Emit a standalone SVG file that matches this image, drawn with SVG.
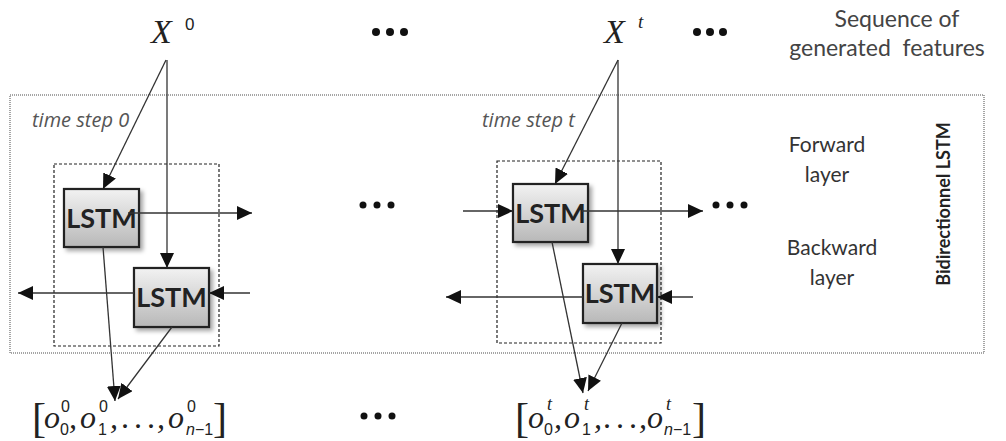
<svg xmlns="http://www.w3.org/2000/svg" width="1006" height="441" viewBox="0 0 1006 441">
<defs>
<linearGradient id="g" x1="0" y1="0" x2="0" y2="1">
<stop offset="0" stop-color="#f2f2f2"/>
<stop offset="1" stop-color="#b8b8b8"/>
</linearGradient>
<filter id="sh" x="-20%" y="-20%" width="150%" height="150%">
<feDropShadow dx="3" dy="3" stdDeviation="2" flood-color="#000" flood-opacity="0.35"/>
</filter>
<marker id="ah" markerUnits="userSpaceOnUse" markerWidth="16" markerHeight="14" refX="15" refY="7" orient="auto">
<path d="M0,0 L15,7 L0,14 z" fill="#111"/>
</marker>
</defs>
<style>
.outer{fill:none;stroke:#888;stroke-width:1.5;stroke-dasharray:1 1}
.inner{fill:none;stroke:#222;stroke-width:1.2;stroke-dasharray:3 2}
.box{fill:url(#g);stroke:#222;stroke-width:2.2;filter:url(#sh)}
.lt{font-family:Lato,"Open Sans",sans-serif;font-weight:bold;font-size:27px;fill:#222}
.c line{stroke:#333;stroke-width:1.3;marker-end:url(#ah)}
.ts{font-family:"Open Sans",Lato,sans-serif;font-style:italic;font-size:20px;fill:#555}
.lab{font-family:Lato,"Open Sans",sans-serif;font-size:21px;fill:#333;text-anchor:middle}
.seq{font-family:Lato,"Open Sans",sans-serif;font-size:23px;fill:#444;text-anchor:middle}
.m{font-family:"Liberation Serif","DejaVu Serif",serif;font-style:italic;font-size:32px;fill:#222}
.s{font-family:"Liberation Sans","DejaVu Sans",sans-serif;font-size:16px;fill:#222}
.br{font-family:"Liberation Serif","DejaVu Serif",serif;font-size:42px;fill:#222}
.dot{fill:#111}
</style>
<rect class="outer" x="10" y="95" width="974" height="258"/>
<text class="ts" x="32" y="127">time step 0</text>
<text class="ts" x="482" y="127">time step t</text>
<rect class="inner" x="54" y="164" width="165" height="182"/>
<rect class="inner" x="497" y="161" width="164" height="182"/>
<g id="lstm-f0"><rect class="box" x="64" y="189" width="75" height="58"/><text class="lt" x="101.5" y="228" text-anchor="middle">LSTM</text></g>
<g id="lstm-b0"><rect class="box" x="134" y="268" width="75" height="59"/><text class="lt" x="171.5" y="307" text-anchor="middle">LSTM</text></g>
<g id="lstm-ft"><rect class="box" x="513" y="184" width="75" height="58"/><text class="lt" x="550.5" y="223" text-anchor="middle">LSTM</text></g>
<g id="lstm-bt"><rect class="box" x="583" y="264" width="74" height="59"/><text class="lt" x="620" y="303" text-anchor="middle">LSTM</text></g>
<g id="x0"><text class="m" style="font-size:34px" x="151" y="43">X</text><text class="s" style="font-size:17px" x="185" y="30">0</text></g>
<g id="xt"><text class="m" style="font-size:34px" x="604" y="43">X</text><text class="m" style="font-size:19px" x="638" y="28">t</text></g>
<g id="dots">
<circle class="dot" cx="376" cy="32" r="4"/><circle class="dot" cx="390" cy="32" r="4"/><circle class="dot" cx="404" cy="32" r="4"/>
<circle class="dot" cx="697" cy="32" r="4"/><circle class="dot" cx="710" cy="32" r="4"/><circle class="dot" cx="723" cy="32" r="4"/>
<circle class="dot" cx="363" cy="205" r="3.5"/><circle class="dot" cx="377" cy="205" r="3.5"/><circle class="dot" cx="391" cy="205" r="3.5"/>
<circle class="dot" cx="716" cy="205" r="3.5"/><circle class="dot" cx="730" cy="205" r="3.5"/><circle class="dot" cx="744" cy="205" r="3.5"/>
<circle class="dot" cx="364" cy="416" r="3.5"/><circle class="dot" cx="378" cy="416" r="3.5"/><circle class="dot" cx="392" cy="416" r="3.5"/>
</g>
<g id="labels">
<text class="seq" x="897" y="27">Sequence of</text>
<text class="seq" x="887" y="56" xml:space="preserve">generated  features</text>
<text class="lab" x="827" y="152">Forward</text>
<text class="lab" x="827" y="182">layer</text>
<text class="lab" x="832" y="255">Backward</text>
<text class="lab" x="832" y="285">layer</text>
<text class="lt" style="font-size:18px" transform="translate(950,204) rotate(-90)" text-anchor="middle">Bidirectionnel LSTM</text>
</g>
<g id="out0">
<text class="br" x="32" y="432">[</text>
<text class="m" x="44" y="428">o</text><text class="s" x="60" y="435">0</text><text class="s" x="61" y="412">0</text>
<text class="m" x="69" y="428">,</text>
<text class="m" x="80" y="428">o</text><text class="s" x="98" y="435">1</text><text class="s" x="99" y="412">0</text>
<text class="m" x="110" y="428">,</text>
<text class="m" x="121" y="428" style="font-style:normal">.</text>
<text class="m" x="134" y="428" style="font-style:normal">.</text>
<text class="m" x="147" y="428" style="font-style:normal">.</text>
<text class="m" x="157" y="428">,</text>
<text class="m" x="168" y="428">o</text><text class="s" x="186" y="435" style="font-style:italic">n</text><text class="s" x="195" y="435">−1</text><text class="s" x="187" y="412">0</text>
<text class="br" x="213" y="432">]</text>
</g>
<g id="outt">
<text class="br" x="515" y="432">[</text>
<text class="m" x="528" y="428">o</text><text class="s" x="544" y="435">0</text><text class="m" style="font-size:18px" x="547" y="410">t</text>
<text class="m" x="554" y="428">,</text>
<text class="m" x="564" y="428">o</text><text class="s" x="582" y="435">1</text><text class="m" style="font-size:18px" x="584" y="410">t</text>
<text class="m" x="594" y="428">,</text>
<text class="m" x="603" y="428" style="font-style:normal">.</text>
<text class="m" x="616" y="428" style="font-style:normal">.</text>
<text class="m" x="629" y="428" style="font-style:normal">.</text>
<text class="m" x="639" y="428">,</text>
<text class="m" x="647" y="428">o</text><text class="s" x="664" y="435" style="font-style:italic">n</text><text class="s" x="673" y="435">−1</text><text class="m" style="font-size:18px" x="666" y="410">t</text>
<text class="br" x="692" y="432">]</text>
</g>
<g id="connectors" class="c">
<line x1="166" y1="60" x2="103" y2="189"/>
<line x1="167" y1="60" x2="167" y2="268"/>
<line x1="128" y1="213" x2="252" y2="213"/>
<line x1="250" y1="293" x2="209" y2="293"/>
<line x1="134" y1="293" x2="18" y2="293"/>
<line x1="103" y1="247" x2="115" y2="401"/>
<line x1="172" y1="327" x2="118" y2="399"/>
<line x1="618" y1="60" x2="555" y2="184"/>
<line x1="618" y1="60" x2="618" y2="264"/>
<line x1="463" y1="211" x2="513" y2="211"/>
<line x1="582" y1="211" x2="703" y2="211"/>
<line x1="693" y1="297" x2="657" y2="297"/>
<line x1="583" y1="297" x2="446" y2="297"/>
<line x1="552" y1="242" x2="583" y2="393"/>
<line x1="622" y1="323" x2="588" y2="391"/>
</g>
</svg>
